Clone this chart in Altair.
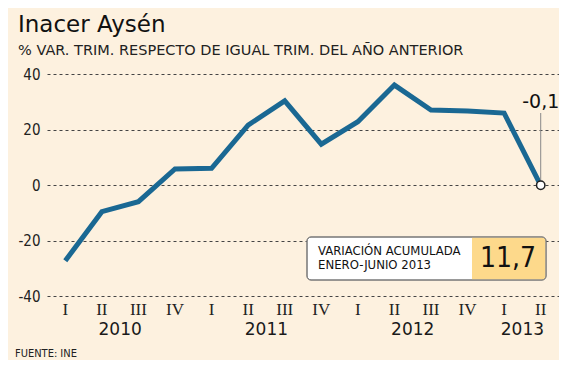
import altair as alt
import pandas as pd

# ---- data ----
idx = list(range(14))
quarters = ["I", "II", "III", "IV", "I", "II", "III", "IV", "I", "II", "III", "IV", "I", "II"]
values = [-27.3, -9.6, -6.0, 5.8, 6.0, 21.6, 30.3, 14.7, 22.8, 36.0, 27.0, 26.7, 25.9, -0.1]
years = ["2010", "2011", "2012", "2013"]
year_pos = [1.5, 5.5, 9.5, 12.5]
y_ticks = [-40, -20, 0, 20, 40]
last_label = "-0,1"
title_text = "Inacer Aysén"
subtitle_text = "% VAR. TRIM. RESPECTO DE IGUAL TRIM. DEL AÑO ANTERIOR"
source_text = "FUENTE: INE"
box_line1 = "VARIACIÓN ACUMULADA"
box_line2 = "ENERO-JUNIO 2013"
box_value = "11,7"

COND = "DejaVu Sans Condensed, DejaVu Sans, sans-serif"
SANS = "DejaVu Sans, sans-serif"
SERIF = "Liberation Serif, DejaVu Serif, serif"
BG = "#FDF1DF"
LINE = "#1A6893"

df = pd.DataFrame({"idx": idx, "q": quarters, "v": values})
df_last = df.tail(1).assign(lab=last_label)
df_years = pd.DataFrame({"pos": year_pos, "year": years})

W, H = 512, 222
xs = alt.Scale(domain=[-0.5, 13.5], nice=False, zero=False)
ys = alt.Scale(domain=[-40, 40], nice=False, zero=False)
X = alt.X("idx:Q", scale=xs, axis=None)
Y = alt.Y("v:Q", scale=ys, axis=alt.Axis(values=y_ticks, title=None, ticks=False, domain=False,
                                          grid=True, gridDash=[3, 3], gridColor="#444", gridWidth=1,
                                          labelFont=COND, labelFontSize=15, labelColor="#222",
                                          labelPadding=7, labelExpr="'' + datum.value"))

base = alt.Chart(df)

line = base.mark_line(color=LINE, strokeWidth=5, strokeJoin="miter").encode(x=X, y=Y)

leader = alt.Chart(df_last).mark_rule(color="#888", strokeWidth=1).encode(
    x=X, y=alt.Y("v:Q", scale=ys), y2=alt.value(39))
pt = alt.Chart(df_last).mark_point(shape="circle", filled=True, fill="white", stroke="#222",
                                   strokeWidth=1.5, size=70, opacity=1).encode(x=X, y=alt.Y("v:Q", scale=ys))
last_txt = alt.Chart(df_last).mark_text(font=SANS, fontSize=19, color="#111", baseline="middle").encode(
    x=X, y=alt.value(28), text="lab:N")

q_txt = base.mark_text(font=SERIF, fontSize=17, color="#222", baseline="middle").encode(
    x=X, y=alt.value(236), text="q:N")
y_txt = alt.Chart(df_years).mark_text(font=SANS, fontSize=17, color="#1a1a1a", baseline="middle",
                                      fontWeight="normal").encode(
    x=alt.X("pos:Q", scale=xs, axis=None), y=alt.value(256), text="year:N")

def txt(t, x, y, size, align="left", baseline="alphabetic", color="#111", font=COND):
    return alt.Chart(pd.DataFrame({"t": [t]})).mark_text(
        font=font, fontSize=size, align=align, baseline=baseline, color=color).encode(
        x=alt.value(x), y=alt.value(y), text="t:N")

title = txt(title_text, -29, -42, 23, font=SANS)
subtitle = txt(subtitle_text, -29, -19, 14.5, color="#222", font=SANS)
source = txt(source_text, -32, 283, 11, color="#222")

box_df = pd.DataFrame({"a": [0]})
box = alt.Chart(box_df).mark_rect(fill="white", stroke="#777", strokeWidth=1, cornerRadius=4).encode(
    x=alt.value(260), x2=alt.value(499), y=alt.value(163), y2=alt.value(206))
box_y = alt.Chart(box_df).mark_rect(fill="#FDD98B", cornerRadiusTopRight=3, cornerRadiusBottomRight=3).encode(
    x=alt.value(425), x2=alt.value(498.5), y=alt.value(163.5), y2=alt.value(205.5))
box_s = alt.Chart(box_df).mark_rect(fill="transparent", stroke="#777", strokeWidth=1, cornerRadius=4).encode(
    x=alt.value(260), x2=alt.value(499), y=alt.value(163), y2=alt.value(206))
b1 = txt(box_line1, 271, 177, 13, baseline="middle", color="#111")
b2 = txt(box_line2, 271, 191, 13, baseline="middle", color="#111")
bv = txt(box_value, 461, 185, 28, align="center", baseline="middle", color="#111")

chart = alt.layer(line, leader, pt, last_txt, q_txt, y_txt, title, subtitle, source,
                  box, box_y, box_s, b1, b2, bv).properties(
    width=W, height=H,
    autosize=alt.AutoSizeParams(type="none"),
    padding={"left": 39, "top": 66, "right": 0, "bottom": 64},
    background=BG,
).configure_view(stroke=None)

chart.save("out.html", embed_options={"renderer": "svg", "actions": False})
